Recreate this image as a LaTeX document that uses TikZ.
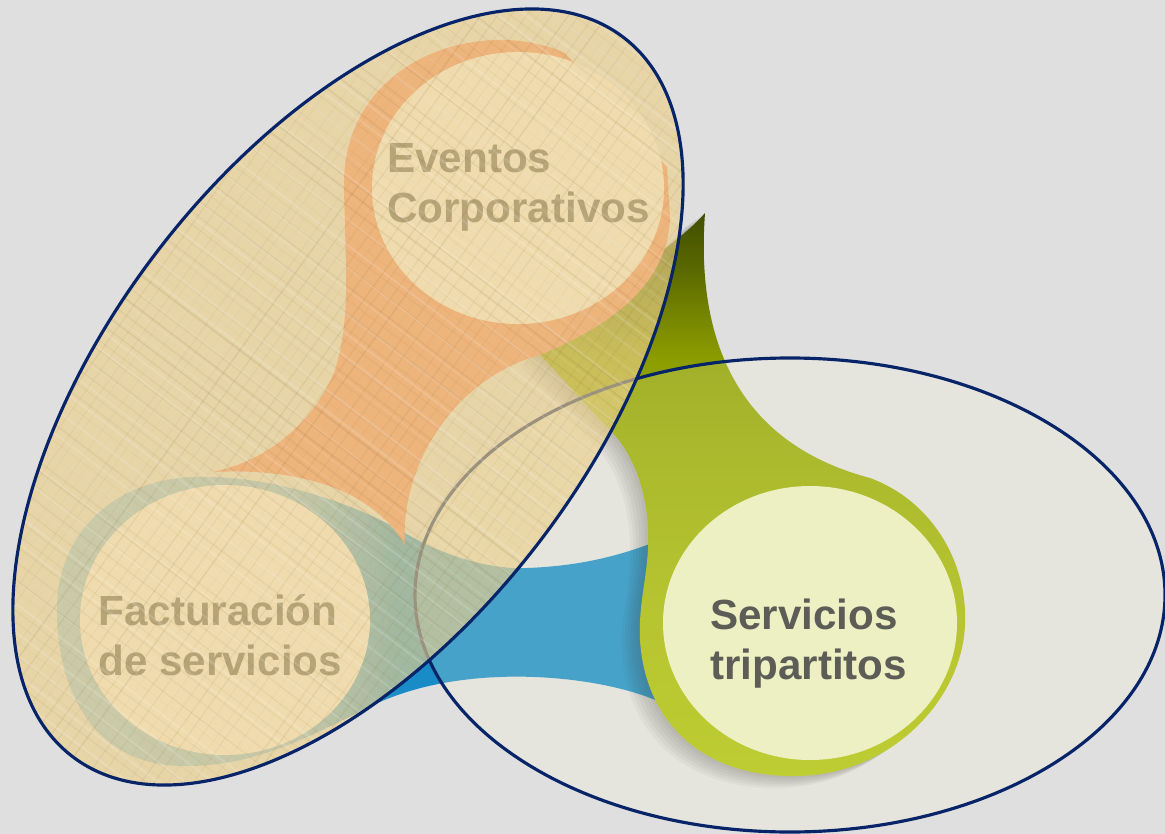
\documentclass[tikz,border=0pt]{standalone}
\usepackage{fontspec}
\setmainfont{Liberation Sans}

\definecolor{bgGray}{RGB}{223,223,223}
\definecolor{navyLine}{RGB}{8,36,104}
\definecolor{papyrus}{RGB}{236,208,140}
\definecolor{paperInk}{RGB}{130,100,45}
\definecolor{orangeDrop}{RGB}{240,130,95}
\definecolor{paleCore}{RGB}{245,242,236}
\definecolor{greenCore}{RGB}{234,237,190}
\definecolor{veil}{RGB}{253,253,213}
\definecolor{labelGray}{RGB}{85,85,85}
\definecolor{labelDark}{RGB}{93,93,87}

\pgfdeclareverticalshading{greenfade}{100bp}{%
  rgb(0bp)=(0.686,0.757,0.039); rgb(25bp)=(0.686,0.757,0.039);
  rgb(40.6bp)=(0.647,0.714,0.031); rgb(54bp)=(0.588,0.659,0.012);
  rgb(62bp)=(0.549,0.616,0); rgb(65.5bp)=(0.471,0.533,0);
  rgb(70bp)=(0.353,0.412,0); rgb(75bp)=(0.255,0.306,0);
  rgb(100bp)=(0.255,0.306,0)}
\pgfdeclarehorizontalshading{bluefade}{100bp}{%
  rgb(0bp)=(0.56,0.76,0.87); rgb(25bp)=(0.56,0.76,0.87);
  rgb(44bp)=(0.50,0.72,0.85); rgb(52bp)=(0.10,0.55,0.78);
  rgb(100bp)=(0.10,0.55,0.78)}

% outline of the green drop (image pixel coordinates)
\newcommand{\greendrop}{(705,213) .. controls (695,350) and (745,445) .. (870,478)
  .. controls (930,500) and (968,560) .. (965,625)
  .. controls (962,700) and (890,778) .. (790,776)
  .. controls (700,775) and (645,720) .. (640,640)
  .. controls (638,600) and (650,570) .. (648,530)
  .. controls (647,495) and (635,455) .. (610,430)
  .. controls (585,405) and (560,375) .. (538,353)
  -- (600,310) -- (650,260) .. controls (670,245) and (690,230) .. cycle}

\begin{document}
\begin{tikzpicture}[x=0.02cm, y=-0.02cm,
    rim/.style={draw=navyLine, line width=1.8pt},
    core/.style={fill=paleCore},
    droplabel/.style={anchor=north west, inner sep=0pt, align=left,
      font=\bfseries\fontsize{24}{28.4}\selectfont}]
\useasboundingbox (0,0) rectangle (1165,834);
\fill[bgGray] (0,0) rectangle (1165,834);

% blue drop (bottom left)
\path[shading=bluefade] (57,613) .. controls (55,530) and (120,476) .. (200,477)
  .. controls (270,476) and (345,500) .. (400,530)
  .. controls (440,555) and (490,570) .. (527,568)
  .. controls (580,566) and (620,556) .. (660,540)
  -- (690,540) -- (690,705) -- (660,702)
  .. controls (600,675) and (470,662) .. (380,702)
  .. controls (320,730) and (260,768) .. (180,766)
  .. controls (100,764) and (58,700) .. cycle;

% green drop (right), with a soft shadow
\foreach \s in {1,...,6}
  \fill[black, opacity=0.045, shift={(-3*\s,2*\s)}] \greendrop;
\path[shading=greenfade] \greendrop;

% orange drop (top)
\fill[orangeDrop] (565,53) .. controls (480,15) and (340,60) .. (344,190)
  .. controls (346,280) and (350,320) .. (335,370)
  .. controls (315,420) and (270,460) .. (213,472)
  .. controls (290,468) and (370,485) .. (405,545)
  .. controls (400,470) and (450,380) .. (540,355)
  .. controls (600,330) and (668,290) .. (670,217)
  -- (667,167) -- cycle;

% light cores of the drops
\fill[core] (518,188) ellipse [x radius=146, y radius=136];
\fill[core] (225,620) ellipse [x radius=145, y radius=135];
\fill[greenCore] (810,623) ellipse [x radius=147, y radius=137];

% labels under the papyrus ellipse
\node[droplabel, text=labelGray] (eventos) at (387,143) {Eventos\\Corporativos};
\node[droplabel, text=labelGray] (facturacion) at (98,594) {Facturación\\de servicios};

% right ellipse
\fill[veil, fill opacity=0.2] (790,595) ellipse [x radius=375, y radius=237];
\draw[rim] (790,595) ellipse [x radius=375, y radius=237];

% papyrus ellipse
\fill[papyrus, fill opacity=0.65, rotate around={52.5:(348,397)}]
  (348,397) ellipse [x radius=453, y radius=240];
\begin{scope}
  \clip[rotate around={52.5:(348,397)}] (348,397) ellipse [x radius=453, y radius=240];
  \pgfmathsetseed{11}
  \foreach \k in {0,...,90} {
    \pgfmathsetmacro\xa{-1090+20*\k+8*rnd}
    \pgfmathsetmacro\lw{0.2+1.0*rnd}
    \pgfmathsetmacro\op{0.04+0.08*rnd}
    \draw[paperInk, line width=\lw pt, opacity=\op] (\xa,0) -- ++(1100,834);
  }
  \foreach \k in {0,...,91} {
    \pgfmathsetmacro\xa{14*\k+6*rnd}
    \pgfmathsetmacro\lw{0.2+0.8*rnd}
    \pgfmathsetmacro\op{0.04+0.07*rnd}
    \draw[paperInk, line width=\lw pt, opacity=\op] (\xa,0) -- ++(-600,834);
  }
  \foreach \k in {0,...,60} {
    \pgfmathsetmacro\xa{-1090+30*\k+10*rnd}
    \pgfmathsetmacro\lw{0.3+1.2*rnd}
    \draw[white, line width=\lw pt, opacity=0.14] (\xa,0) -- ++(1100,834);
  }
\end{scope}
\draw[rim, rotate around={52.5:(348,397)}] (348,397) ellipse [x radius=453, y radius=240];

% label of the green drop
\node[droplabel, text=labelDark] (servicios) at (710,599) {Servicios\\tripartitos};
\end{tikzpicture}
\end{document}
